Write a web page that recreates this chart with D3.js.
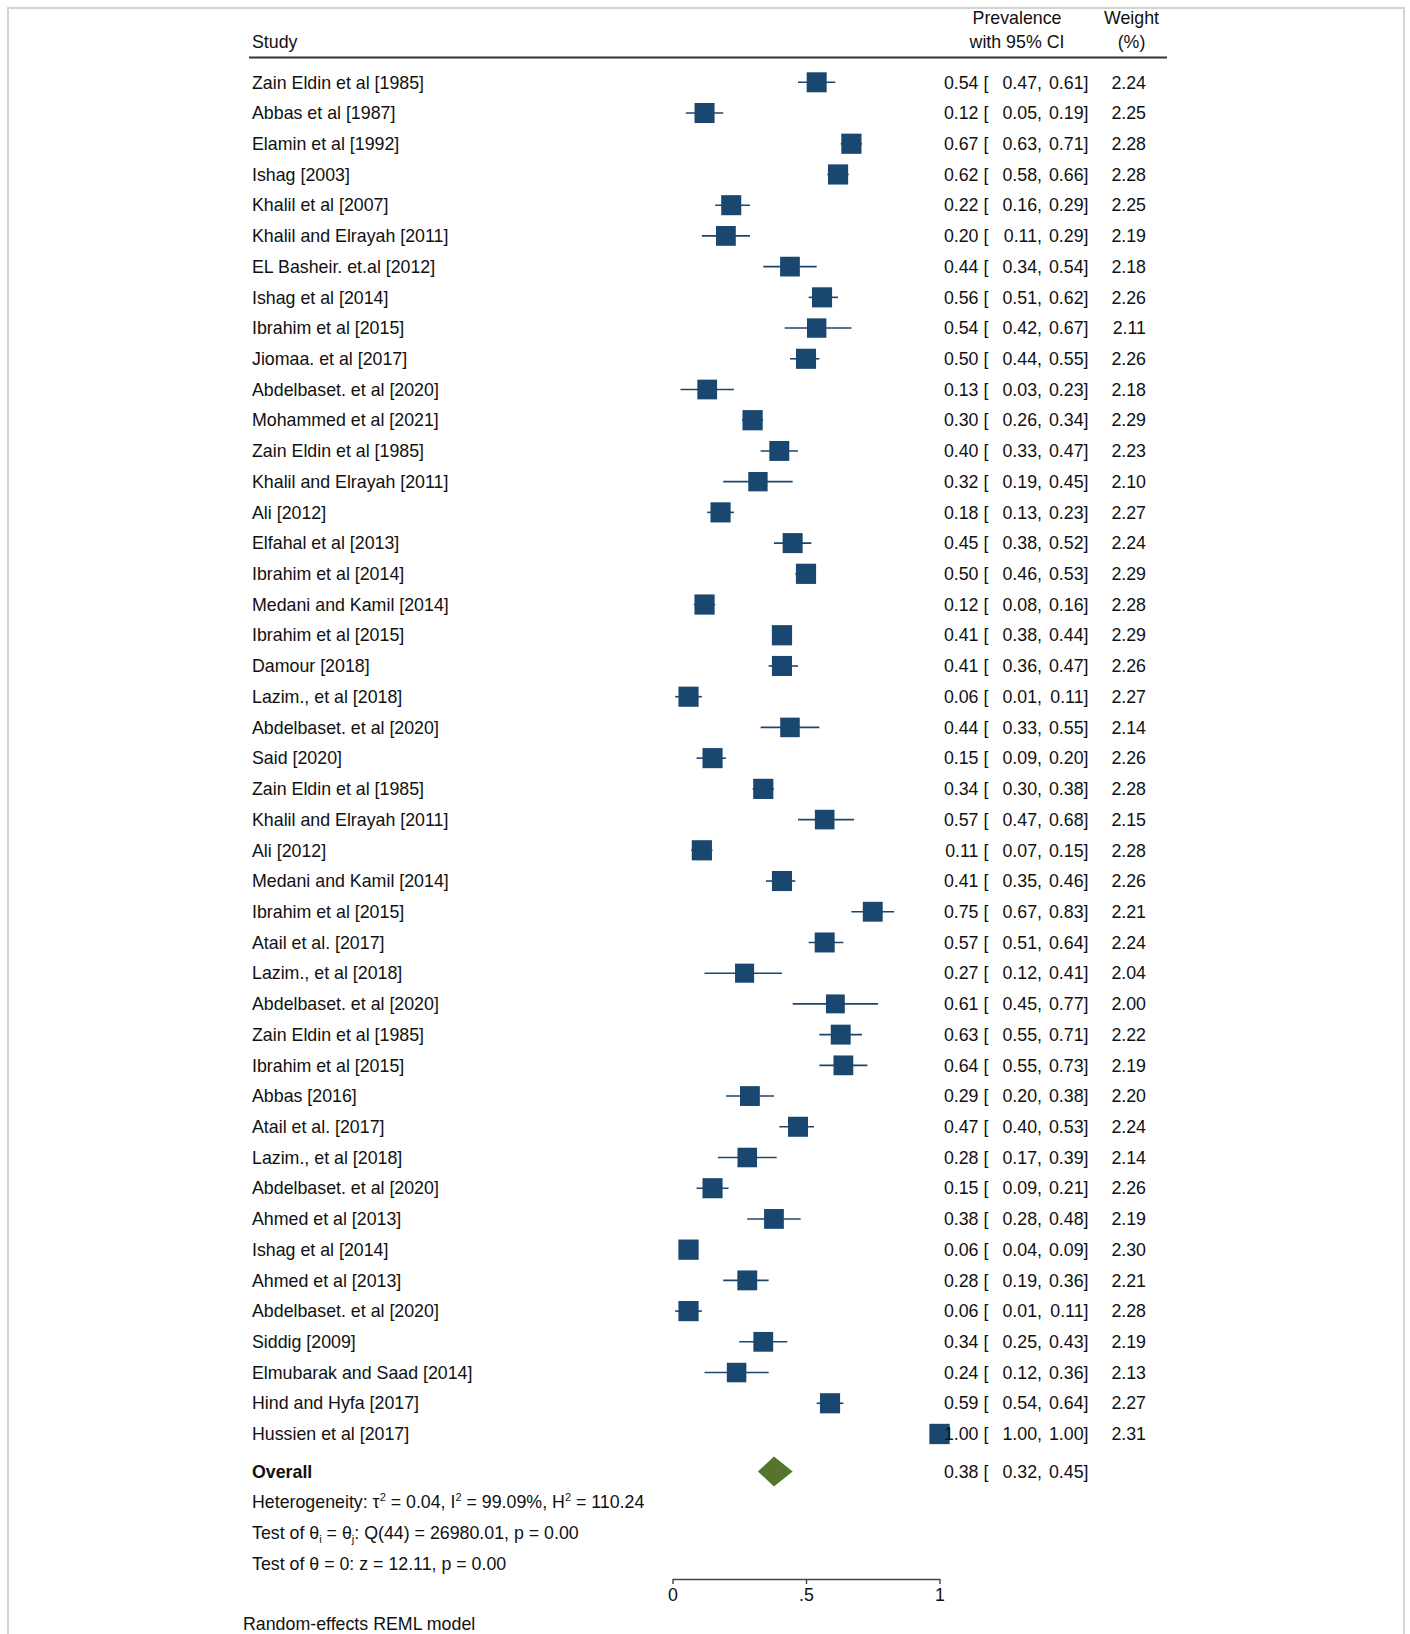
<!DOCTYPE html>
<html>
<head>
<meta charset="utf-8">
<script src="https://cdn.jsdelivr.net/npm/d3@7"></script>
<style>
  html, body { margin: 0; padding: 0; background: #fff; }
  svg { display: block; }
  text { font-family: "Liberation Sans", Arial, Helvetica, sans-serif; fill: #111; }
</style>
</head>
<body>
<div id="chart"></div>
<script>
// Study labels, prevalence estimates with 95% CI, and random-effects weights (%)
const studies = [
  "Zain Eldin et al [1985]", "Abbas et al [1987]", "Elamin et al [1992]", "Ishag [2003]",
  "Khalil et al [2007]", "Khalil and Elrayah [2011]", "EL Basheir. et.al [2012]", "Ishag et al [2014]",
  "Ibrahim et al [2015]", "Jiomaa. et al [2017]", "Abdelbaset. et al [2020]", "Mohammed et al [2021]",
  "Zain Eldin et al [1985]", "Khalil and Elrayah [2011]", "Ali [2012]", "Elfahal et al [2013]",
  "Ibrahim et al [2014]", "Medani and Kamil [2014]", "Ibrahim et al [2015]", "Damour [2018]",
  "Lazim., et al [2018]", "Abdelbaset. et al [2020]", "Said [2020]", "Zain Eldin et al [1985]",
  "Khalil and Elrayah [2011]", "Ali [2012]", "Medani and Kamil [2014]", "Ibrahim et al [2015]",
  "Atail et al. [2017]", "Lazim., et al [2018]", "Abdelbaset. et al [2020]", "Zain Eldin et al [1985]",
  "Ibrahim et al [2015]", "Abbas [2016]", "Atail et al. [2017]", "Lazim., et al [2018]",
  "Abdelbaset. et al [2020]", "Ahmed et al [2013]", "Ishag et al [2014]", "Ahmed et al [2013]",
  "Abdelbaset. et al [2020]", "Siddig [2009]", "Elmubarak and Saad [2014]", "Hind and Hyfa [2017]",
  "Hussien et al [2017]"
];
const estimate = [
  0.54, 0.12, 0.67, 0.62, 0.22, 0.20, 0.44, 0.56, 0.54, 0.50, 0.13, 0.30,
  0.40, 0.32, 0.18, 0.45, 0.50, 0.12, 0.41, 0.41, 0.06, 0.44, 0.15, 0.34,
  0.57, 0.11, 0.41, 0.75, 0.57, 0.27, 0.61, 0.63, 0.64, 0.29, 0.47, 0.28,
  0.15, 0.38, 0.06, 0.28, 0.06, 0.34, 0.24, 0.59, 1.00
];
const lower = [
  0.47, 0.05, 0.63, 0.58, 0.16, 0.11, 0.34, 0.51, 0.42, 0.44, 0.03, 0.26,
  0.33, 0.19, 0.13, 0.38, 0.46, 0.08, 0.38, 0.36, 0.01, 0.33, 0.09, 0.30,
  0.47, 0.07, 0.35, 0.67, 0.51, 0.12, 0.45, 0.55, 0.55, 0.20, 0.40, 0.17,
  0.09, 0.28, 0.04, 0.19, 0.01, 0.25, 0.12, 0.54, 1.00
];
const upper = [
  0.61, 0.19, 0.71, 0.66, 0.29, 0.29, 0.54, 0.62, 0.67, 0.55, 0.23, 0.34,
  0.47, 0.45, 0.23, 0.52, 0.53, 0.16, 0.44, 0.47, 0.11, 0.55, 0.20, 0.38,
  0.68, 0.15, 0.46, 0.83, 0.64, 0.41, 0.77, 0.71, 0.73, 0.38, 0.53, 0.39,
  0.21, 0.48, 0.09, 0.36, 0.11, 0.43, 0.36, 0.64, 1.00
];
const weight = [
  2.24, 2.25, 2.28, 2.28, 2.25, 2.19, 2.18, 2.26, 2.11, 2.26, 2.18, 2.29,
  2.23, 2.10, 2.27, 2.24, 2.29, 2.28, 2.29, 2.26, 2.27, 2.14, 2.26, 2.28,
  2.15, 2.28, 2.26, 2.21, 2.24, 2.04, 2.00, 2.22, 2.19, 2.20, 2.24, 2.14,
  2.26, 2.19, 2.30, 2.21, 2.28, 2.19, 2.13, 2.27, 2.31
];
// Pooled random-effects estimate
const overall = { est: 0.38, lo: 0.32, hi: 0.45 };
const xTicks = [0, 0.5, 1];
const xTickLabels = ["0", ".5", "1"];

const W = 1410, H = 1634;
const svg = d3.select("#chart").append("svg").attr("width", W).attr("height", H);

// outer frame
svg.append("rect").attr("x", 8).attr("y", 8).attr("width", 1396).attr("height", 1660)
  .attr("fill", "none").attr("stroke", "#d4d4d4").attr("stroke-width", 2);

const x = d3.scaleLinear().domain([0, 1]).range([672.5, 939.5]);
// row index -> vertical center
const y = d3.scaleLinear().domain([0, 1]).range([82.3, 82.3 + 30.72]);
const fs = 17.8;
const base = 6.2; // baseline offset from row center
const navy = "#1a476f", green = "#55752f";
const colEst = 978.5, colBr = 983.5, colLo = 1042, colHi = 1088.5, colW = 1146;
const fmt = d3.format(".2f");

// header
const hdr = svg.append("g").attr("font-size", fs);
hdr.append("text").attr("x", 252).attr("y", 48).text("Study");
hdr.append("text").attr("x", 1017).attr("y", 24).attr("text-anchor", "middle").text("Prevalence");
hdr.append("text").attr("x", 1017).attr("y", 48).attr("text-anchor", "middle").text("with 95% CI");
hdr.append("text").attr("x", 1131.5).attr("y", 24).attr("text-anchor", "middle").text("Weight");
hdr.append("text").attr("x", 1131.5).attr("y", 48).attr("text-anchor", "middle").text("(%)");
svg.append("line").attr("x1", 249).attr("x2", 1167).attr("y1", 57.5).attr("y2", 57.5)
  .attr("stroke", "#333").attr("stroke-width", 2);

const rows = studies.map((s, i) => ({ s, i, e: estimate[i], lo: lower[i], hi: upper[i], w: weight[i] }));

// CI whiskers
svg.append("g").selectAll("line").data(rows).join("line")
  .attr("x1", d => x(d.lo)).attr("x2", d => x(d.hi))
  .attr("y1", d => y(d.i)).attr("y2", d => y(d.i))
  .attr("stroke", navy).attr("stroke-width", 1.6);

// weight-scaled boxes (area proportional to weight)
const side = d3.scaleSqrt().domain([0, 2.24]).range([0, 20]);
svg.append("g").selectAll("rect").data(rows).join("rect")
  .attr("x", d => x(d.e) - side(d.w) / 2).attr("y", d => y(d.i) - side(d.w) / 2)
  .attr("width", d => side(d.w)).attr("height", d => side(d.w))
  .attr("fill", navy);

// text columns
const tg = svg.append("g").attr("font-size", fs);
const rowText = tg.selectAll("g").data(rows).join("g")
  .attr("transform", d => `translate(0,${y(d.i) + base})`);
rowText.append("text").attr("x", 252).text(d => d.s);
rowText.append("text").attr("x", colEst).attr("text-anchor", "end").text(d => fmt(d.e));
rowText.append("text").attr("x", colBr).text("[");
rowText.append("text").attr("x", colLo).attr("text-anchor", "end").text(d => fmt(d.lo) + ",");
rowText.append("text").attr("x", colHi).attr("text-anchor", "end").text(d => fmt(d.hi) + "]");
rowText.append("text").attr("x", colW).attr("text-anchor", "end").text(d => fmt(d.w));

// overall row
const oy = y(45.22);
const diamond = [[x(overall.lo), oy], [x(overall.est), oy - 15], [x(overall.hi), oy], [x(overall.est), oy + 15]];
svg.append("path").attr("d", d3.line()(diamond) + "Z").attr("fill", green);
const og = svg.append("g").attr("font-size", fs).attr("transform", `translate(0,${oy + base})`);
og.append("text").attr("x", 252).attr("font-weight", "bold").text("Overall");
og.append("text").attr("x", colEst).attr("text-anchor", "end").text(fmt(overall.est));
og.append("text").attr("x", colBr).text("[");
og.append("text").attr("x", colLo).attr("text-anchor", "end").text(fmt(overall.lo) + ",");
og.append("text").attr("x", colHi).attr("text-anchor", "end").text(fmt(overall.hi) + "]");

// heterogeneity statistics
const st = svg.append("g").attr("font-size", fs);
const t1 = st.append("text").attr("x", 252).attr("y", y(46.22) + base);
t1.append("tspan").text("Heterogeneity: τ");
t1.append("tspan").attr("dy", -7).attr("font-size", 11).text("2");
t1.append("tspan").attr("dy", 7).text(" = 0.04, I");
t1.append("tspan").attr("dy", -7).attr("font-size", 11).text("2");
t1.append("tspan").attr("dy", 7).text(" = 99.09%, H");
t1.append("tspan").attr("dy", -7).attr("font-size", 11).text("2");
t1.append("tspan").attr("dy", 7).text(" = 110.24");
const t2 = st.append("text").attr("x", 252).attr("y", y(47.22) + base);
t2.append("tspan").text("Test of θ");
t2.append("tspan").attr("dy", 4).attr("font-size", 11).text("i");
t2.append("tspan").attr("dy", -4).text(" = θ");
t2.append("tspan").attr("dy", 4).attr("font-size", 11).text("j");
t2.append("tspan").attr("dy", -4).text(": Q(44) = 26980.01, p = 0.00");
st.append("text").attr("x", 252).attr("y", y(48.22) + base).text("Test of θ = 0: z = 12.11, p = 0.00");

// x axis (ticks hang below the line)
const axis = d3.axisBottom(x).tickValues(xTicks).tickFormat((d, i) => xTickLabels[i])
  .tickSizeInner(5).tickSizeOuter(0).tickPadding(4);
const ag = svg.append("g").attr("transform", "translate(0,1579)").call(axis);
ag.select(".domain").attr("stroke", "#444").attr("stroke-width", 1.6);
ag.selectAll(".tick line").attr("stroke", "#444").attr("stroke-width", 1.4);
ag.selectAll(".tick text").attr("font-size", fs).attr("font-family", "Liberation Sans, Arial, sans-serif").attr("fill", "#111");

svg.append("text").attr("x", 243).attr("y", 1629.5).attr("font-size", fs).text("Random-effects REML model");
</script>
</body>
</html>
